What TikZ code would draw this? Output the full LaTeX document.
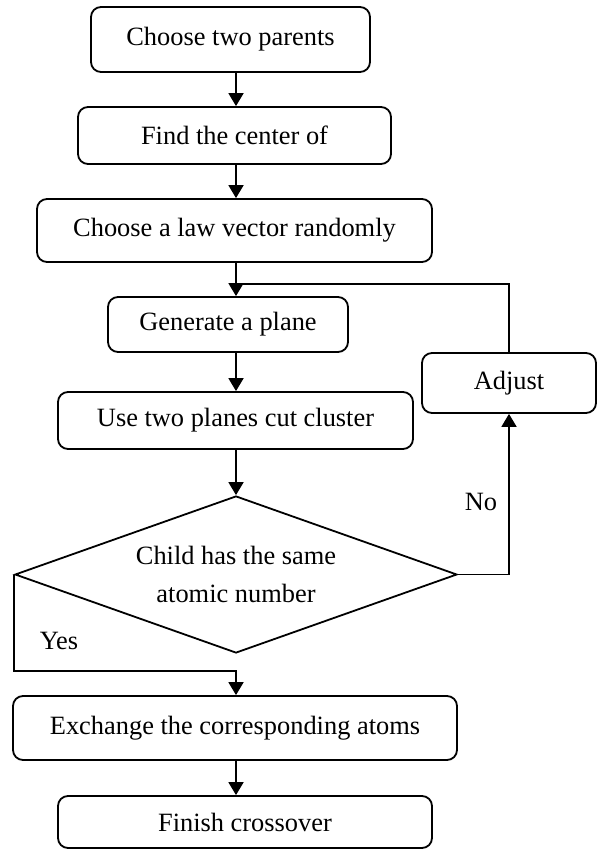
\documentclass[tikz,border=0pt]{standalone}
\usepackage{fontspec}
\setmainfont{Liberation Serif}
\usetikzlibrary{arrows.meta,shapes.geometric,calc}
\begin{document}
\begin{tikzpicture}[x=1pt,y=-1pt,
  every node/.style={font=\fontsize{26.4}{38}\selectfont},
  box/.style={draw,line width=1.8pt,rounded corners=10pt,inner sep=0pt,align=center},
  conn/.style={line width=1.8pt},
  arr/.style={line width=1.8pt,-{Triangle[length=13pt,width=15pt]}},
  lbl/.style={inner sep=0pt}]
\useasboundingbox (0,0) rectangle (598,850);
\coordinate (ax) at (236,0);
\node[box,minimum width=279pt,minimum height=65pt] (b1) at (230.5,39.5) {Choose two parents};
\node[box,minimum width=313pt,minimum height=57pt] (b2) at (234.5,135.5) {Find the center of};
\node[box,minimum width=395pt,minimum height=63pt] (b3) at (234.5,230.5) {Choose a law vector randomly};
\node[box,minimum width=240pt,minimum height=55pt] (b4) at (228,324.5) {Generate a plane};
\node[box,minimum width=355pt,minimum height=57pt] (b5) at (235.5,420.5) {Use two planes cut cluster};
\node[box,minimum width=174pt,minimum height=60pt] (adj) at (509,383) {Adjust};
\node[draw,line width=1.8pt,diamond,aspect=2.815,inner sep=0pt,align=center,
  minimum width=442pt,minimum height=157pt] (dia) at (236,574.5) {Child has the same\\atomic number};
\node[box,minimum width=444pt,minimum height=64pt] (b7) at (235,728) {Exchange the corresponding atoms};
\node[box,minimum width=374pt,minimum height=52pt] (b8) at (245,822) {Finish crossover};
\node[lbl] (no) at (481,502) {No};
\node[lbl] (yes) at (59,641) {Yes};
\coordinate (jn) at (236,284);
\coordinate (yj) at (236,671);
\draw[arr] (b1.south -| ax) -- (b2.north -| ax);
\draw[arr] (b2.south -| ax) -- (b3.north -| ax);
\draw[arr] (b3.south -| ax) -- (b4.north -| ax);
\draw[conn] (adj.north) |- (jn);
\draw[arr] (b4.south -| ax) -- (b5.north -| ax);
\draw[arr] (b5.south -| ax) -- (dia.north);
\draw[arr] (dia.east) -| (adj.south);
\draw[arr] (dia.west) |- (yj) -- (b7.north -| ax);
\draw[arr] (b7.south -| ax) -- (b8.north -| ax);
\end{tikzpicture}
\end{document}
